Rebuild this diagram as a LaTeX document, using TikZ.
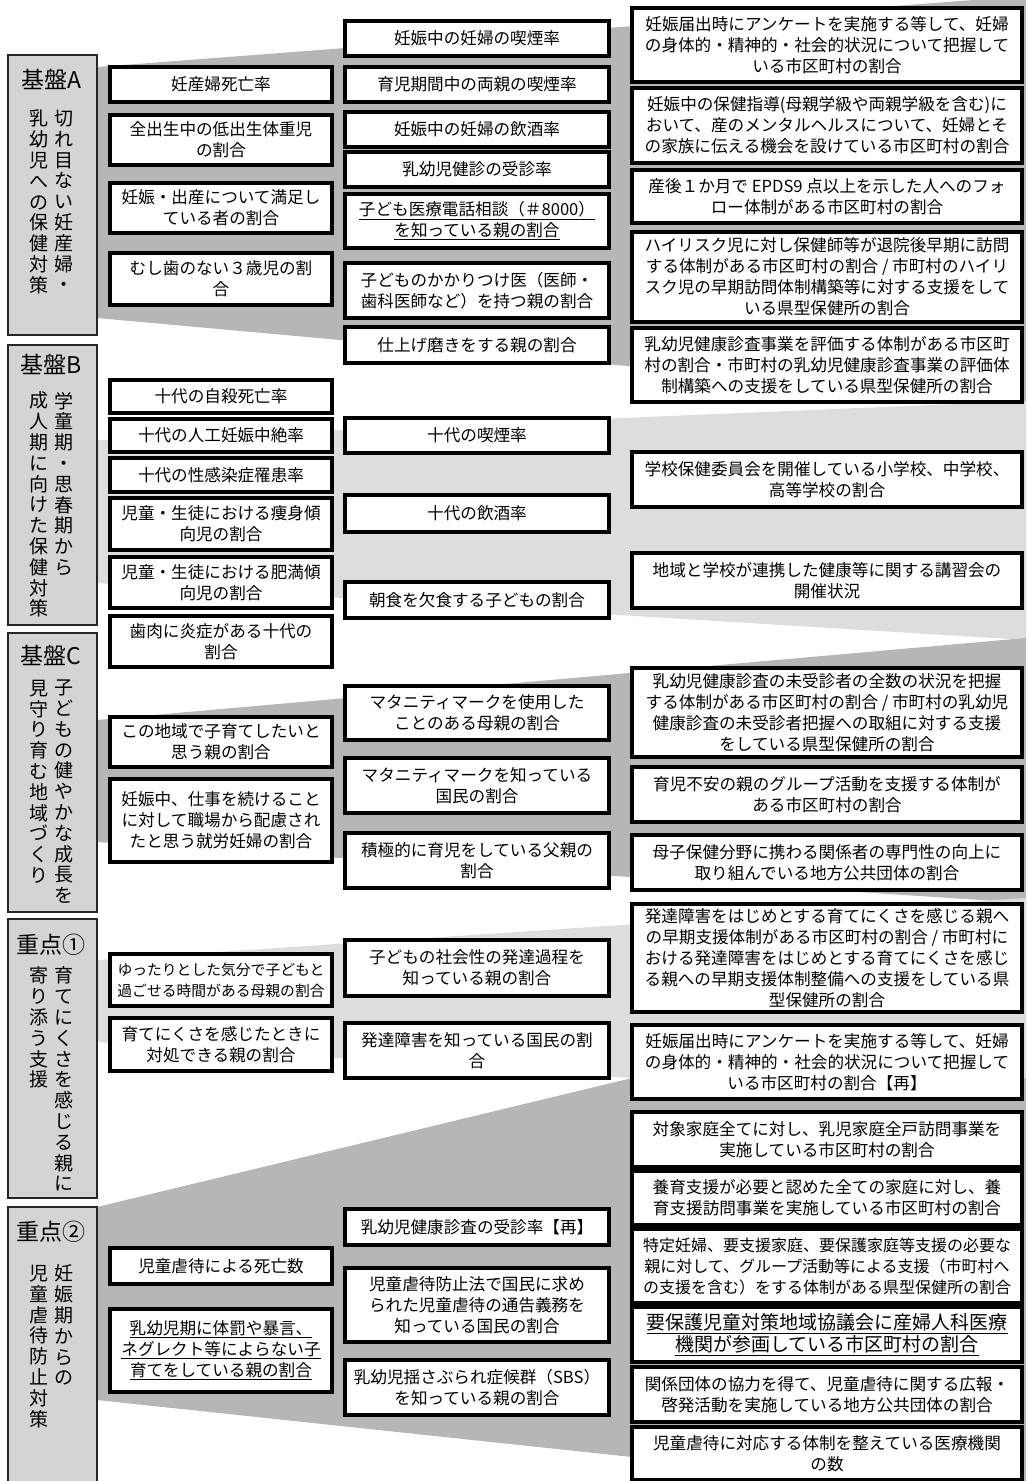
\documentclass[tikz,border=0pt]{standalone}
\usepackage{fontspec}
\setmainfont{Noto Sans CJK JP}
\definecolor{bandmed}{HTML}{B5B6B8}
\definecolor{bandlight}{HTML}{DCDDDF}
\definecolor{catgray}{HTML}{D3D4D6}
\tikzset{
  every node/.style={inner sep=0pt, outer sep=0pt},
  bx/.style={draw=black, line width=3.4pt, fill=white, align=center, font=\fontsize{16.6}{21}\selectfont},
  catbx/.style={draw=black!85, line width=1.8pt, fill=catgray},
  cattitle/.style={font=\fontsize{23}{26}\selectfont},
  vtext/.style={align=center, anchor=north, font=\fontsize{19}{20.8}\selectfont},
  bandM/.style={fill=bandmed, draw=none},
  bandL/.style={fill=bandlight, draw=none},
}
\newcommand\bxn[7][]{\node[bx,#1,minimum width={#5-#3},minimum height={#6-#4}] (#2) at ({(#3+#5)/2},{(#4+#6)/2}) {#7};}
\newcommand\catn[5]{\node[catbx,minimum width={#4-#2},minimum height={#5-#3}] (#1) at ({(#2+#4)/2},{(#3+#5)/2}) {};}
\begin{document}
\begin{tikzpicture}[x=1pt,y=-1pt]
\path[use as bounding box] (0,0) rectangle (1026,1481);
\begin{scope}
\clip (0,0) rectangle (1026,1481);
% bands
\fill[bandM] (97,67) -- (1026,-4) -- (1026,402) -- (97,318) -- cycle;
\fill[bandL] (97,440) -- (1026,401) -- (1026,640) -- (97,583) -- cycle;
\fill[bandM] (97,720) -- (1026,638) -- (1026,903) -- (97,842) -- cycle;
\fill[bandL] (97,960) -- (1026,898) -- (1026,1078) -- (632,1078) -- (97,1042) -- cycle;
\fill[bandM] (97,1207) -- (632,1078) -- (1026,1078) -- (1026,1481) -- (632,1457) -- (97,1400) -- cycle;

% category boxes
\catn{catA}{8}{55}{97}{335}
\catn{catB}{8}{345}{97}{625}
\catn{catC}{8}{633}{97}{912}
\catn{catD}{8}{919}{97}{1198}
\catn{catE}{8}{1207}{97}{1500}

\node[cattitle] (tA) at (51,79) {基盤A};
\node[vtext] (vA1) at (64,110) {切\\れ\\目\\な\\い\\妊\\産\\婦\\・};
\node[vtext] (vA2) at (39,110) {乳\\幼\\児\\へ\\の\\保\\健\\対\\策};

\node[cattitle] (tB) at (51,364) {基盤B};
\node[vtext] (vB1) at (64,392) {学\\童\\期\\・\\思\\春\\期\\か\\ら};
\node[vtext] (vB2) at (39,392) {成\\人\\期\\に\\向\\け\\た\\保\\健\\対\\策};

\node[cattitle] (tC) at (51,655) {基盤C};
\node[vtext] (vC1) at (64,680) {子\\ど\\も\\の\\健\\や\\か\\な\\成\\長\\を};
\node[vtext] (vC2) at (39,680) {見\\守\\り\\育\\む\\地\\域\\づ\\く\\り};

\node[cattitle] (tD) at (51,945) {重点①};
\node[vtext] (vD1) at (64,967) {育\\て\\に\\く\\さ\\を\\感\\じ\\る\\親\\に};
\node[vtext] (vD2) at (39,967) {寄\\り\\添\\う\\支\\援};

\node[cattitle] (tE) at (51,1232) {重点②};
\node[vtext] (vE1) at (64,1265) {妊\\娠\\期\\か\\ら\\の};
\node[vtext] (vE2) at (39,1265) {児\\童\\虐\\待\\防\\止\\対\\策};

% ---- A ----
\bxn{aL1}{110}{67}{332}{102}{妊産婦死亡率}
\bxn{aL2}{110}{115}{332}{165}{全出生中の低出生体重児\\の割合}
\bxn{aL3}{110}{183}{332}{233}{妊娠・出産について満足し\\ている者の割合}
\bxn{aL4}{110}{253}{332}{305}{むし歯のない３歳児の割\\合}

\bxn{aM1}{345}{21}{609}{56}{妊娠中の妊婦の喫煙率}
\bxn{aM2}{345}{67}{609}{102}{育児期間中の両親の喫煙率}
\bxn{aM3}{345}{112}{609}{147}{妊娠中の妊婦の飲酒率}
\bxn{aM4}{345}{152}{609}{187}{乳幼児健診の受診率}
\bxn{aM5}{345}{194}{609}{248}{\underline{子ども医療電話相談（＃8000）}\\\underline{を知っている親の割合}}
\bxn{aM6}{345}{263}{609}{318}{子どものかかりつけ医（医師・\\歯科医師など）を持つ親の割合}
\bxn{aM7}{345}{327}{609}{363}{仕上げ磨きをする親の割合}

\bxn{aR1}{632}{8}{1022}{82}{妊娠届出時にアンケートを実施する等して、妊婦\\の身体的・精神的・社会的状況について把握して\\いる市区町村の割合}
\bxn{aR2}{632}{88}{1022}{163}{妊娠中の保健指導(母親学級や両親学級を含む)に\\おいて、産のメンタルヘルスについて、妊婦とそ\\の家族に伝える機会を設けている市区町村の割合}
\bxn{aR3}{632}{170}{1022}{223}{産後１か月で EPDS9 点以上を示した人へのフォ\\ロー体制がある市区町村の割合}
\bxn{aR4}{632}{232}{1022}{322}{ハイリスク児に対し保健師等が退院後早期に訪問\\する体制がある市区町村の割合 / 市町村のハイリ\\スク児の早期訪問体制構築等に対する支援をして\\いる県型保健所の割合}
\bxn{aR5}{632}{328}{1022}{402}{乳幼児健康診査事業を評価する体制がある市区町\\村の割合・市町村の乳幼児健康診査事業の評価体\\制構築への支援をしている県型保健所の割合}

% ---- B ----
\bxn{bL1}{110}{380}{332}{413}{十代の自殺死亡率}
\bxn{bL2}{110}{419}{332}{452}{十代の人工妊娠中絶率}
\bxn{bL3}{110}{458}{332}{492}{十代の性感染症罹患率}
\bxn{bL4}{110}{498}{332}{550}{児童・生徒における痩身傾\\向児の割合}
\bxn{bL5}{110}{557}{332}{608}{児童・生徒における肥満傾\\向児の割合}
\bxn{bL6}{110}{616}{332}{667}{歯肉に炎症がある十代の\\割合}

\bxn{bM1}{345}{418}{609}{453}{十代の喫煙率}
\bxn{bM2}{345}{495}{609}{532}{十代の飲酒率}
\bxn{bM3}{345}{582}{609}{618}{朝食を欠食する子どもの割合}

\bxn{bR1}{632}{452}{1022}{507}{学校保健委員会を開催している小学校、中学校、\\高等学校の割合}
\bxn{bR2}{632}{553}{1022}{608}{地域と学校が連携した健康等に関する講習会の\\開催状況}

% ---- C ----
\bxn{cL1}{110}{717}{332}{767}{この地域で子育てしたいと\\思う親の割合}
\bxn{cL2}{110}{779}{332}{862}{妊娠中、仕事を続けること\\に対して職場から配慮され\\たと思う就労妊婦の割合}

\bxn{cM1}{345}{686}{609}{740}{マタニティマークを使用した\\ことのある母親の割合}
\bxn{cM2}{345}{758}{609}{813}{マタニティマークを知っている\\国民の割合}
\bxn{cM3}{345}{833}{609}{888}{積極的に育児をしている父親の\\割合}

\bxn{cR1}{632}{668}{1022}{757}{乳幼児健康診査の未受診者の全数の状況を把握\\する体制がある市区町村の割合 / 市町村の乳幼児\\健康診査の未受診者把握への取組に対する支援\\をしている県型保健所の割合}
\bxn{cR2}{632}{767}{1022}{822}{育児不安の親のグループ活動を支援する体制が\\ある市区町村の割合}
\bxn{cR3}{632}{835}{1022}{890}{母子保健分野に携わる関係者の専門性の向上に\\取り組んでいる地方公共団体の割合}

% ---- 重点1 ----
\bxn[font=\fontsize{14.8}{21}\selectfont]{dL1}{110}{954}{332}{1006}{ゆったりとした気分で子どもと\\過ごせる時間がある母親の割合}
\bxn{dL2}{110}{1018}{332}{1071}{育てにくさを感じたときに\\対処できる親の割合}

\bxn{dM1}{345}{940}{609}{996}{子どもの社会性の発達過程を\\知っている親の割合}
\bxn{dM2}{345}{1023}{609}{1078}{発達障害を知っている国民の割\\合}

\bxn{dR1}{632}{904}{1022}{1012}{発達障害をはじめとする育てにくさを感じる親へ\\の早期支援体制がある市区町村の割合 / 市町村に\\おける発達障害をはじめとする育てにくさを感じ\\る親への早期支援体制整備への支援をしている県\\型保健所の割合}

% ---- 重点2 ----
\bxn{eL1}{110}{1248}{332}{1284}{児童虐待による死亡数}
\bxn{eL2}{110}{1309}{332}{1392}{\underline{乳幼児期に体罰や暴言、}\\\underline{ネグレクト等によらない子}\\\underline{育てをしている親の割合}}

\bxn{eM1}{345}{1209}{609}{1245}{乳幼児健康診査の受診率【再】}
\bxn{eM2}{345}{1268}{609}{1342}{児童虐待防止法で国民に求め\\られた児童虐待の通告義務を\\知っている国民の割合}
\bxn{eM3}{345}{1360}{609}{1415}{乳幼児揺さぶられ症候群（SBS）\\を知っている親の割合}

\bxn{eR1}{632}{1025}{1022}{1099}{妊娠届出時にアンケートを実施する等して、妊婦\\の身体的・精神的・社会的状況について把握して\\いる市区町村の割合【再】}
\bxn{eR2}{632}{1112}{1022}{1167}{対象家庭全てに対し、乳児家庭全戸訪問事業を\\実施している市区町村の割合}
\bxn{eR3}{632}{1171}{1022}{1225}{養育支援が必要と認めた全ての家庭に対し、養\\育支援訪問事業を実施している市区町村の割合}
\bxn[font=\fontsize{16}{21}\selectfont]{eR4}{632}{1229}{1022}{1303}{特定妊婦、要支援家庭、要保護家庭等支援の必要な\\親に対して、グループ活動等による支援（市町村へ\\の支援を含む）をする体制がある県型保健所の割合}
\bxn[font=\fontsize{19}{22}\selectfont]{eR5}{632}{1307}{1022}{1362}{\underline{要保護児童対策地域協議会に産婦人科医療}\\\underline{機関が参画している市区町村の割合}}
\bxn{eR6}{632}{1367}{1022}{1422}{関係団体の協力を得て、児童虐待に関する広報・\\啓発活動を実施している地方公共団体の割合}
\bxn{eR7}{632}{1427}{1022}{1480}{児童虐待に対応する体制を整えている医療機関\\の数}
\end{scope}
\end{tikzpicture}
\end{document}
